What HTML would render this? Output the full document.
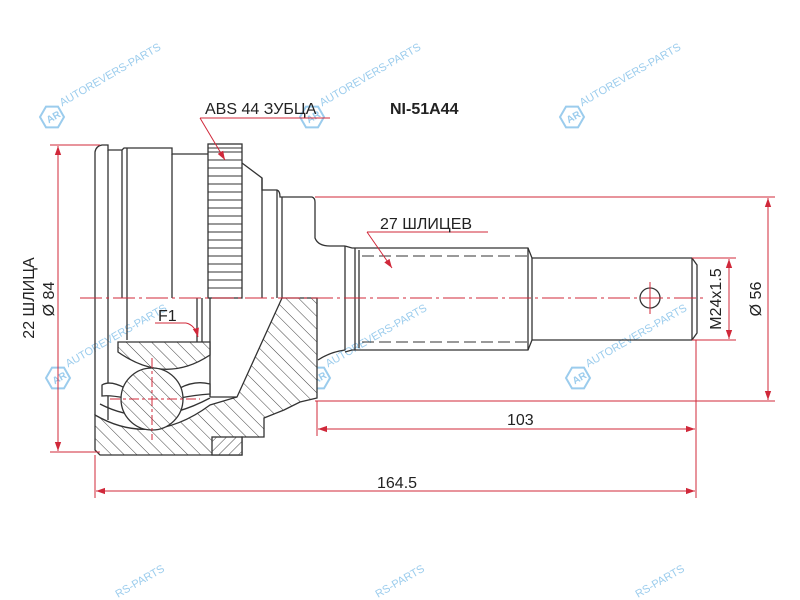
<!DOCTYPE html>
<html><head><meta charset="utf-8"><style>
html,body{margin:0;padding:0;background:#fff;width:800px;height:600px;overflow:hidden}
svg{display:block}
text{font-family:"Liberation Sans",Arial,sans-serif}
</style></head><body>
<svg width="800" height="600" viewBox="0 0 800 600" xmlns="http://www.w3.org/2000/svg">
<defs>
<pattern id="h" patternUnits="userSpaceOnUse" width="9" height="9" patternTransform="rotate(-45)">
<rect width="9" height="9" fill="#fff"/><line x1="0" y1="0" x2="0" y2="9" stroke="#444" stroke-width="1"/></pattern>
<pattern id="h2" patternUnits="userSpaceOnUse" width="7" height="7" patternTransform="rotate(45)">
<rect width="7" height="7" fill="#fff"/><line x1="0" y1="0" x2="0" y2="7" stroke="#444" stroke-width="1"/></pattern>
<marker id="a" viewBox="0 0 10 10" refX="10" refY="5" markerWidth="9" markerHeight="9" orient="auto-start-reverse" markerUnits="userSpaceOnUse"><path d="M0,1.5 L10,5 L0,8.5z" fill="#d0283a"/></marker>
<g id="wm" fill="none" stroke="#4aa3de" stroke-width="2">
<polygon points="0,-12 10.4,-6 10.4,6 0,12 -10.4,6 -10.4,-6" transform="rotate(-30)"/>
<text x="-6" y="4" font-size="10" fill="#4aa3de" stroke="none" font-weight="bold" transform="rotate(-30)">AR</text>
<text x="14" y="-4" font-size="11" fill="#4aa3de" stroke="none" transform="rotate(-30)">AUTOREVERS-PARTS</text>
</g>
</defs>

<g opacity="0.55">
<use href="#wm" x="52" y="117"/><use href="#wm" x="312" y="117"/><use href="#wm" x="572" y="117"/>
<use href="#wm" x="58" y="378"/><use href="#wm" x="318" y="378"/><use href="#wm" x="578" y="378"/>
<text font-size="11" fill="#4aa3de" transform="translate(118,598) rotate(-30)">RS-PARTS</text>
<text font-size="11" fill="#4aa3de" transform="translate(378,598) rotate(-30)">RS-PARTS</text>
<text font-size="11" fill="#4aa3de" transform="translate(638,598) rotate(-30)">RS-PARTS</text>
</g>

<g stroke="#333" stroke-width="1.3" fill="none">
<!-- upper housing outline -->
<path d="M95,298 L95,152 Q96,146 102,145 L108,145 L108,150 L122,150 L124,148 L172,148 L172,154 L208,154"/>
<line x1="108" y1="150" x2="108" y2="298"/>
<line x1="122" y1="150" x2="122" y2="298"/>
<line x1="127" y1="148" x2="127" y2="298"/>
<line x1="172" y1="154" x2="172" y2="298"/>
<rect x="208" y="144" width="34" height="154" fill="#fff"/>
<g stroke-width="1">
<line x1="208" y1="148" x2="242" y2="148"/><line x1="208" y1="152" x2="242" y2="152"/>
<line x1="208" y1="160" x2="242" y2="160"/><line x1="208" y1="168" x2="242" y2="168"/>
<line x1="208" y1="176" x2="242" y2="176"/><line x1="208" y1="184" x2="242" y2="184"/>
<line x1="208" y1="192" x2="242" y2="192"/><line x1="208" y1="200" x2="242" y2="200"/>
<line x1="208" y1="208" x2="242" y2="208"/><line x1="208" y1="216" x2="242" y2="216"/>
<line x1="208" y1="224" x2="242" y2="224"/><line x1="208" y1="232" x2="242" y2="232"/>
<line x1="208" y1="240" x2="242" y2="240"/><line x1="208" y1="248" x2="242" y2="248"/>
<line x1="208" y1="256" x2="242" y2="256"/><line x1="208" y1="264" x2="242" y2="264"/>
<line x1="208" y1="272" x2="242" y2="272"/><line x1="208" y1="280" x2="242" y2="280"/>
<line x1="208" y1="288" x2="242" y2="288"/>
</g>
<path d="M242,163 L262,178 L262,190 L277,190 Q280,191 280,197 L282,197 L312,197 Q315,198 315,202 L315,238 Q318,246 330,246 L345,246"/>
<line x1="262" y1="178" x2="262" y2="298"/>
<line x1="277" y1="190" x2="277" y2="298"/>
<line x1="282" y1="197" x2="282" y2="298"/>
<!-- shaft -->
<path d="M345,246 L345,350 M345,246 L352,248 L528,248 L532,258 L692,258 L697,265 L697,333 L692,340 L532,340 L528,350 L352,350 L345,352"/>
<line x1="355" y1="248" x2="355" y2="350"/>
<line x1="359" y1="250" x2="359" y2="348"/>
<line x1="528" y1="248" x2="528" y2="350"/>
<line x1="692" y1="258" x2="692" y2="340"/>
<line x1="532" y1="258" x2="532" y2="340"/>
<line x1="362" y1="256" x2="528" y2="256" stroke-dasharray="12,5" stroke-width="1"/>
<line x1="362" y1="342" x2="528" y2="342" stroke-dasharray="12,5" stroke-width="1"/>
<circle cx="650" cy="298" r="10"/>
<path d="M345,350 Q330,352 318,360"/>

<!-- lower section hatched body -->
<path d="M282,298 L317,298 L317,398 L300,402 L284,410 L264,418 L264,437 L242,437 L242,455 L100,455 L95,450 L95,415 Q152,448 210,405 L237,397 Z" fill="url(#h)"/>
<rect x="212" y="437" width="30" height="18" fill="url(#h2)"/>
<line x1="95" y1="298" x2="95" y2="415"/>
<line x1="108" y1="298" x2="108" y2="420"/>
<line x1="127" y1="298" x2="127" y2="340"/>
<line x1="197" y1="298" x2="197" y2="342"/>
<line x1="202" y1="298" x2="202" y2="342"/>
<line x1="210" y1="298" x2="210" y2="397"/>
<line x1="210" y1="397" x2="237" y2="397"/>
<!-- inner race lens -->
<path d="M118,342 L210,342 L210,355 Q165,385 118,352 Z" fill="url(#h)"/>
<!-- cage fingers -->
<path d="M102,385 Q110,380 125,388 L125,398 Q110,395 102,396 Z" fill="#fff"/>
<path d="M180,388 Q195,380 210,384 L210,394 Q195,395 180,398 Z" fill="#fff"/>
<path d="M100,404 Q150,430 210,398"/>
<circle cx="152" cy="399" r="31" fill="url(#h)"/>
</g>

<g stroke="#d0283a" stroke-width="1" fill="none">
<line x1="80" y1="298" x2="705" y2="298" stroke-dasharray="22,4,3,4"/>
<line x1="152" y1="358" x2="152" y2="440" stroke-dasharray="10,3,3,3"/>
<line x1="110" y1="399" x2="200" y2="399" stroke-dasharray="10,3,3,3"/>
<line x1="650" y1="282" x2="650" y2="314"/>
<line x1="50" y1="145" x2="100" y2="145"/><line x1="50" y1="452" x2="100" y2="452"/>
<line x1="58" y1="146" x2="58" y2="451" marker-start="url(#a)" marker-end="url(#a)"/>
<line x1="315" y1="197" x2="775" y2="197"/><line x1="315" y1="401" x2="775" y2="401"/>
<line x1="768" y1="198" x2="768" y2="400" marker-start="url(#a)" marker-end="url(#a)"/>
<line x1="692" y1="258" x2="736" y2="258"/><line x1="692" y1="340" x2="736" y2="340"/>
<line x1="729" y1="259" x2="729" y2="339" marker-start="url(#a)" marker-end="url(#a)"/>
<line x1="317" y1="401" x2="317" y2="436"/><line x1="696" y1="340" x2="696" y2="498"/>
<line x1="318" y1="429" x2="695" y2="429" marker-start="url(#a)" marker-end="url(#a)"/>
<line x1="95" y1="455" x2="95" y2="498"/>
<line x1="96" y1="491" x2="695" y2="491" marker-start="url(#a)" marker-end="url(#a)"/>
<line x1="200" y1="118" x2="330" y2="118"/>
<line x1="200" y1="118" x2="225" y2="160" marker-end="url(#a)"/>
<line x1="367" y1="232" x2="488" y2="232"/>
<line x1="367" y1="232" x2="392" y2="268" marker-end="url(#a)"/>
<line x1="155" y1="323" x2="186" y2="323"/>
<path d="M186,323 Q195,325 198,337" marker-end="url(#a)"/>
</g>

<g fill="#222" font-size="16">
<text x="205" y="114">ABS 44 ЗУБЦА</text>
<text x="390" y="114" font-weight="bold">NI-51A44</text>
<text x="380" y="229">27 ШЛИЦЕВ</text>
<text x="158" y="321">F1</text>
<text x="507" y="425">103</text>
<text x="377" y="488">164.5</text>
<text transform="translate(34,298) rotate(-90)" text-anchor="middle">22 ШЛИЦА</text>
<text transform="translate(54,299) rotate(-90)" text-anchor="middle">Ø 84</text>
<text transform="translate(721,299) rotate(-90)" text-anchor="middle">M24x1.5</text>
<text transform="translate(761,299) rotate(-90)" text-anchor="middle">Ø 56</text>
</g>
</svg>
</body></html>
